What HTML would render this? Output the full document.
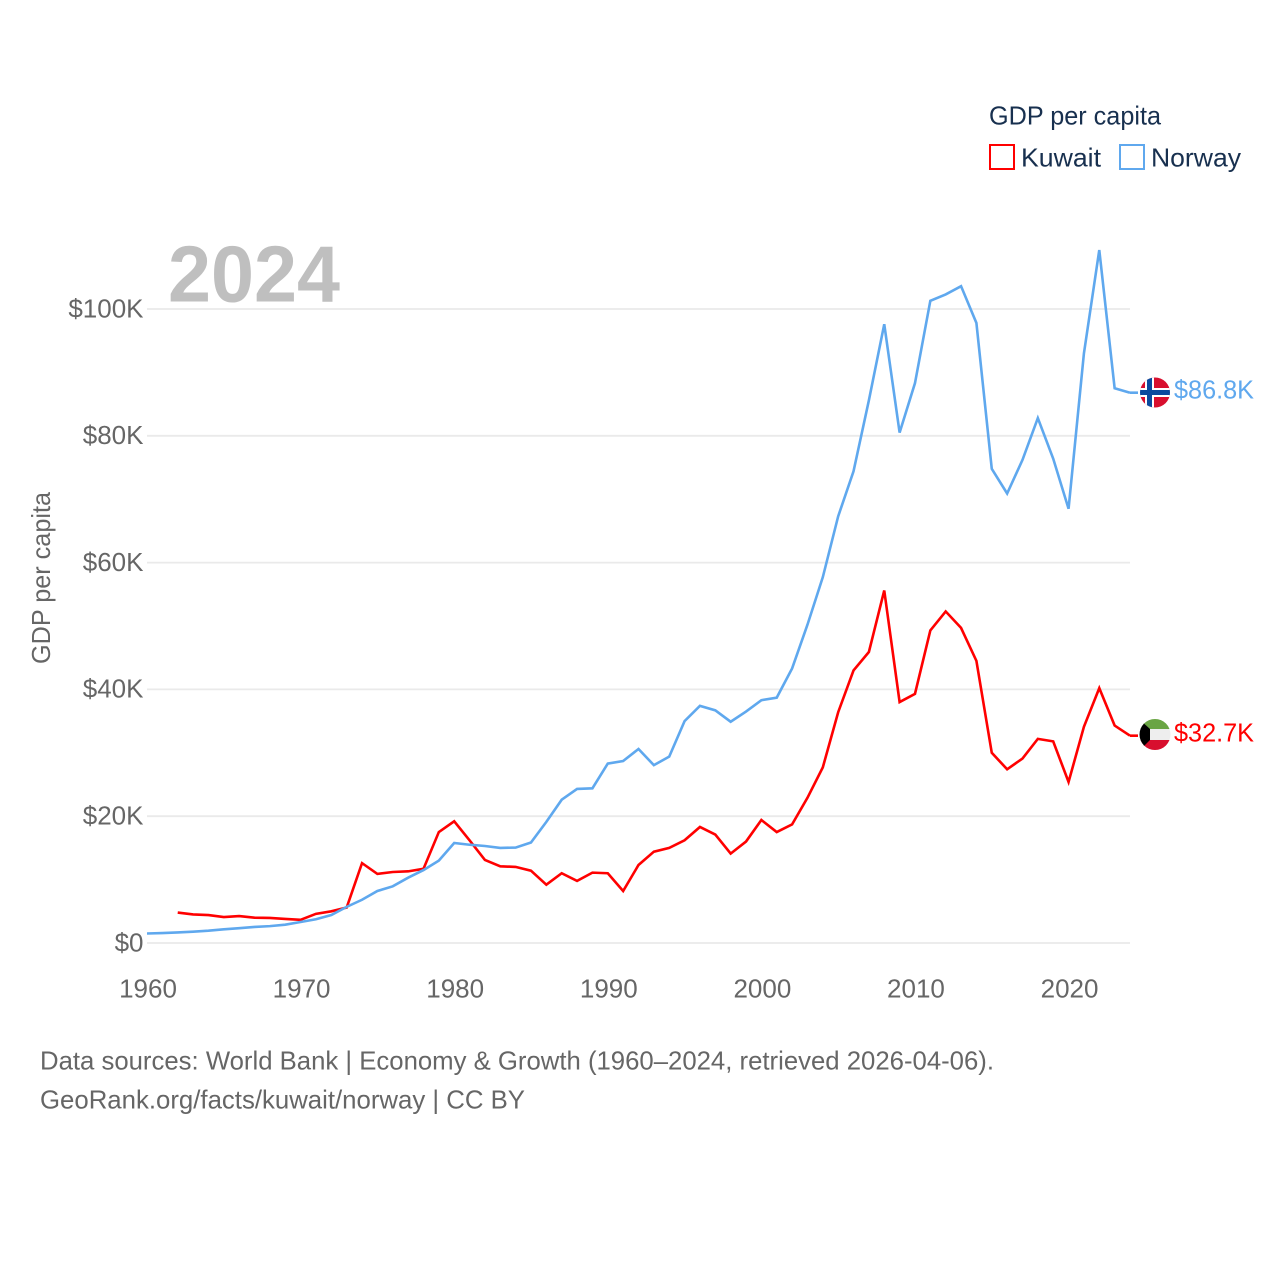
<!DOCTYPE html>
<html lang="en">
<head>
<meta charset="utf-8">
<title>GDP per capita: Kuwait and Norway</title>
<style>
html,body{margin:0;padding:0;background:#fff;}
svg{display:block;font-family:"Liberation Sans",sans-serif;}
</style>
</head>
<body>
<svg id="chart" xmlns="http://www.w3.org/2000/svg" width="1280" height="1280" viewBox="0 0 1280 1280">
  <rect x="0" y="0" width="1280" height="1280" fill="#ffffff"/>
  <defs>
    <clipPath id="clip-no"><circle cx="1155" cy="392.5" r="15"/></clipPath>
    <clipPath id="clip-kw"><circle cx="1155" cy="734.5" r="15.5"/></clipPath>
  </defs>
  <g id="grid"></g>
  <text x="168" y="301.5" font-size="80" font-weight="700" fill="#bfbfbf" textLength="172" lengthAdjust="spacingAndGlyphs">2024</text>
  <g id="yticks"></g>
  <g id="xticks"></g>
  <text transform="translate(50,664) rotate(-90)" font-size="26" fill="#666666" textLength="172" lengthAdjust="spacingAndGlyphs">GDP per capita</text>
  <g id="series"></g>

  <g>
    <text x="989" y="124.5" font-size="26" fill="#18304f" textLength="172" lengthAdjust="spacingAndGlyphs">GDP per capita</text>
    <g>
      <rect x="990" y="145" width="24" height="24" fill="none" stroke="#ff0000" stroke-width="2"/>
      <text x="1021" y="166.5" font-size="26" fill="#18304f" textLength="80" lengthAdjust="spacingAndGlyphs">Kuwait</text>
    </g>
    <g>
      <rect x="1120" y="145" width="24" height="24" fill="none" stroke="#5fa8ee" stroke-width="2"/>
      <text x="1151" y="166.5" font-size="26" fill="#18304f" textLength="90" lengthAdjust="spacingAndGlyphs">Norway</text>
    </g>
  </g>

  <g clip-path="url(#clip-no)">
    <rect x="1140" y="377" width="30" height="31" fill="#d80f2e"/>
    <rect x="1145" y="377" width="9" height="31" fill="#ffffff"/>
    <rect x="1140" y="388" width="30" height="9" fill="#ffffff"/>
    <rect x="1147" y="377" width="5" height="31" fill="#0a4a9e"/>
    <rect x="1140" y="390" width="30" height="5" fill="#0a4a9e"/>
  </g>
  <g clip-path="url(#clip-kw)">
    <rect x="1139" y="719" width="32" height="10" fill="#6aa544"/>
    <rect x="1139" y="729" width="32" height="11" fill="#eeeeee"/>
    <rect x="1139" y="740" width="32" height="11" fill="#d80f2e"/>
    <polygon points="1139,719 1150,729 1150,740 1139,751" fill="#000000"/>
  </g>
  <text x="1174" y="398.5" font-size="26" fill="#5fa8ee" textLength="80" lengthAdjust="spacingAndGlyphs">$86.8K</text>
  <text x="1174" y="741.5" font-size="26" fill="#ff0000" textLength="80" lengthAdjust="spacingAndGlyphs">$32.7K</text>

  <text x="40" y="1069.5" font-size="26" fill="#666666" textLength="954" lengthAdjust="spacingAndGlyphs">Data sources: World Bank | Economy &amp; Growth (1960–2024, retrieved 2026-04-06).</text>
  <text x="40" y="1108.5" font-size="26" fill="#666666" textLength="485" lengthAdjust="spacingAndGlyphs">GeoRank.org/facts/kuwait/norway | CC BY</text>
</svg>
<script>
const yTickValues = [0, 20, 40, 60, 80, 100];
const yTickLabels = ["$0", "$20K", "$40K", "$60K", "$80K", "$100K"];
const xTickValues = [1960, 1970, 1980, 1990, 2000, 2010, 2020];
const xTickLabels = ["1960", "1970", "1980", "1990", "2000", "2010", "2020"];
const norwayStartYear = 1960;
const kuwaitStartYear = 1962;
const norwayValues = [1.5, 1.56, 1.67, 1.78, 1.94, 2.16, 2.33, 2.53, 2.66, 2.89, 3.31, 3.74, 4.42, 5.7, 6.82, 8.2, 8.94, 10.3, 11.5, 13.0, 15.77, 15.5, 15.3, 15.0, 15.05, 15.85, 19.1, 22.6, 24.3, 24.4, 28.3, 28.7, 30.6, 28.05, 29.4, 35.0, 37.4, 36.7, 34.9, 36.5, 38.3, 38.7, 43.3, 50.2, 57.7, 67.3, 74.4, 85.6, 97.6, 80.5, 88.3, 101.3, 102.3, 103.6, 97.8, 74.8, 70.9, 76.2, 82.8, 76.4, 68.5, 93.0, 109.3, 87.5, 86.8];
const kuwaitValues = [4.8, 4.5, 4.4, 4.1, 4.25, 4.0, 3.95, 3.8, 3.65, 4.6, 5.0, 5.6, 12.6, 10.9, 11.2, 11.3, 11.7, 17.5, 19.2, 16.2, 13.1, 12.1, 12.0, 11.4, 9.2, 11.0, 9.8, 11.1, 11.0, 8.2, 12.3, 14.4, 15.0, 16.2, 18.3, 17.1, 14.1, 16.0, 19.4, 17.5, 18.7, 22.9, 27.7, 36.4, 43.0, 45.9, 55.6, 38.0, 39.3, 49.3, 52.3, 49.7, 44.5, 30.0, 27.4, 29.1, 32.2, 31.8, 25.4, 34.1, 40.2, 34.3, 32.7];

const SVG_NS = "http://www.w3.org/2000/svg";
const xScale = function (year) { return 147 + (year - 1960) * (1130 - 147) / 64; };
const yScale = function (value) { return 943 - value * 6.34; };

const gridGroup = document.getElementById("grid");
const yTickGroup = document.getElementById("yticks");
const xTickGroup = document.getElementById("xticks");
const seriesGroup = document.getElementById("series");

yTickValues.forEach(function (value, i) {
  const line = document.createElementNS(SVG_NS, "line");
  
  
  line.setAttribute("x1", 147);
  line.setAttribute("x2", 1130);
  line.setAttribute("y1", yScale(value));
  line.setAttribute("y2", yScale(value));
  line.setAttribute("stroke", "#eaeaea");
  line.setAttribute("stroke-width", "1.8");
  gridGroup.appendChild(line);

  const label = document.createElementNS(SVG_NS, "text");
  
  
  label.setAttribute("x", 143.5);
  label.setAttribute("y", yScale(value) + 8.3);
  label.setAttribute("text-anchor", "end");
  label.setAttribute("font-size", "26");
  label.setAttribute("fill", "#666666");
  label.textContent = yTickLabels[i];
  yTickGroup.appendChild(label);
});

xTickValues.forEach(function (year, i) {
  const label = document.createElementNS(SVG_NS, "text");
  
  
  label.setAttribute("x", xScale(year) + 1);
  label.setAttribute("y", 997.5);
  label.setAttribute("text-anchor", "middle");
  label.setAttribute("font-size", "26");
  label.setAttribute("fill", "#666666");
  label.textContent = xTickLabels[i];
  xTickGroup.appendChild(label);
});

function linePoints(values, startYear) {
  return values.map(function (value, i) {
    return xScale(startYear + i).toFixed(2) + "," + yScale(value).toFixed(2);
  }).join(" ");
}

const kuwaitLine = document.createElementNS(SVG_NS, "polyline");


kuwaitLine.setAttribute("points", linePoints(kuwaitValues, kuwaitStartYear));
kuwaitLine.setAttribute("fill", "none");
kuwaitLine.setAttribute("stroke", "#ff0000");
kuwaitLine.setAttribute("stroke-width", "2.6");
kuwaitLine.setAttribute("stroke-linejoin", "miter");
seriesGroup.appendChild(kuwaitLine);

const norwayLine = document.createElementNS(SVG_NS, "polyline");


norwayLine.setAttribute("points", linePoints(norwayValues, norwayStartYear));
norwayLine.setAttribute("fill", "none");
norwayLine.setAttribute("stroke", "#5fa8ee");
norwayLine.setAttribute("stroke-width", "2.6");
norwayLine.setAttribute("stroke-linejoin", "miter");
seriesGroup.appendChild(norwayLine);

const kuwaitConnector = document.createElementNS(SVG_NS, "line");


kuwaitConnector.setAttribute("x1", xScale(2024));
kuwaitConnector.setAttribute("x2", 1138);
kuwaitConnector.setAttribute("y1", yScale(kuwaitValues[kuwaitValues.length - 1]));
kuwaitConnector.setAttribute("y2", yScale(kuwaitValues[kuwaitValues.length - 1]));
kuwaitConnector.setAttribute("stroke", "#ff0000");
kuwaitConnector.setAttribute("stroke-width", "2.6");
seriesGroup.appendChild(kuwaitConnector);

const norwayConnector = document.createElementNS(SVG_NS, "line");


norwayConnector.setAttribute("x1", xScale(2024));
norwayConnector.setAttribute("x2", 1138);
norwayConnector.setAttribute("y1", yScale(norwayValues[norwayValues.length - 1]));
norwayConnector.setAttribute("y2", yScale(norwayValues[norwayValues.length - 1]));
norwayConnector.setAttribute("stroke", "#5fa8ee");
norwayConnector.setAttribute("stroke-width", "2.6");
seriesGroup.appendChild(norwayConnector);
</script>
</body>
</html>
